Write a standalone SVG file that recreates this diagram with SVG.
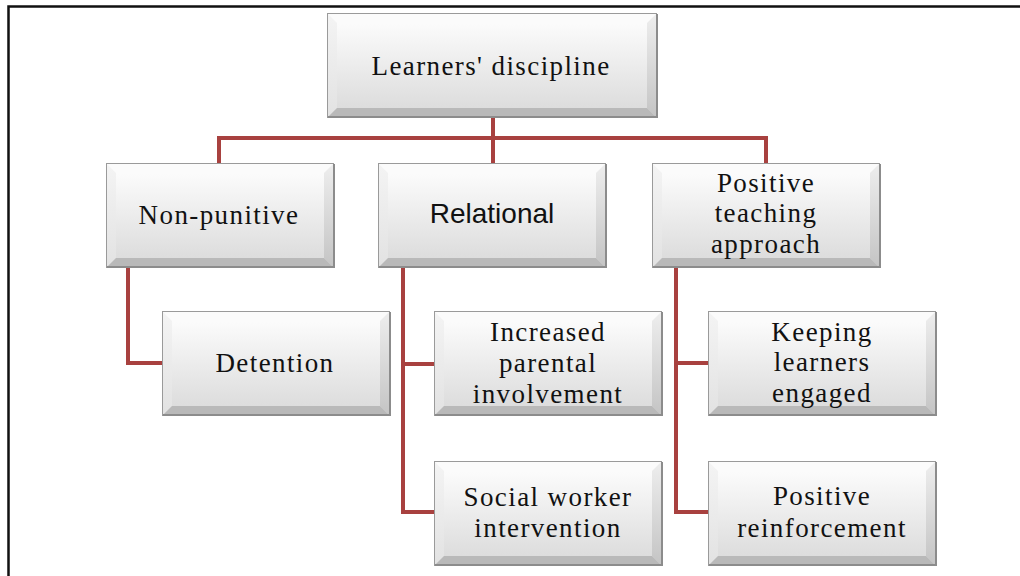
<svg xmlns="http://www.w3.org/2000/svg" xmlns:xlink="http://www.w3.org/1999/xlink" width="1020" height="576" viewBox="0 0 1020 576">
<style>
.t{font-family:"Liberation Serif","Times New Roman",serif;font-size:27px;letter-spacing:1.4px;fill:#111;text-anchor:middle}
.s{font-family:"Liberation Sans",Arial,sans-serif;font-size:28px;fill:#111;text-anchor:middle}
.c{fill:none;stroke:#a8413f;stroke-width:4}
.ft{fill:#fbfbfb}
.fl{fill:url(#gl)}
.fr{fill:url(#gr)}
.fb{fill:#b9b9b9}
.fc{fill:url(#gc)}
.ol{fill:none;stroke:#9a9a9a;stroke-width:1}
.sh{fill:none;stroke:#8c8c8c;stroke-width:2}
</style>
<defs>
<linearGradient id="gc" x1="0" y1="0" x2="0" y2="1"><stop offset="0" stop-color="#ffffff"/><stop offset="1" stop-color="#d9d9d9"/></linearGradient>
<linearGradient id="gl" x1="0" y1="0" x2="0" y2="1"><stop offset="0" stop-color="#f4f4f4"/><stop offset="1" stop-color="#e2e2e2"/></linearGradient>
<linearGradient id="gr" x1="0" y1="0" x2="0" y2="1"><stop offset="0" stop-color="#eeeeee"/><stop offset="1" stop-color="#c4c4c4"/></linearGradient>
<symbol id="b228" overflow="visible">
<rect class="fc" x="0" y="0" width="228" height="105"/>
<polygon class="ft" points="0,0 228,0 218,10 10,10"/>
<polygon class="fl" points="0,0 10,10 10,95 0,105"/>
<polygon class="fr" points="228,0 228,105 218,95 218,10"/>
<polygon class="fb" points="0,105 10,95 218,95 228,105"/>
<rect class="ol" x="0.5" y="0.5" width="227" height="104"/>
<path class="sh" d="M1,104 H228 V1"/>
</symbol>
<symbol id="b330" overflow="visible">
<rect class="fc" x="0" y="0" width="330" height="105"/>
<polygon class="ft" points="0,0 330,0 320,10 10,10"/>
<polygon class="fl" points="0,0 10,10 10,95 0,105"/>
<polygon class="fr" points="330,0 330,105 320,95 320,10"/>
<polygon class="fb" points="0,105 10,95 320,95 330,105"/>
<rect class="ol" x="0.5" y="0.5" width="329" height="104"/>
<path class="sh" d="M1,104 H330 V1"/>
</symbol>
</defs>
<rect width="1020" height="576" fill="#ffffff"/>
<path d="M8.5,576 V6.5 H1020" fill="none" stroke="#111" stroke-width="2.5"/>
<g id="connectors">
<path class="c" d="M493,118 V138"/>
<path class="c" d="M217,138 H768"/>
<path class="c" d="M219,138 V163"/>
<path class="c" d="M493,138 V163"/>
<path class="c" d="M766,138 V163"/>
<path class="c" d="M128,267 V363 H162"/>
<path class="c" d="M403,267 V512 H434"/>
<path class="c" d="M403,364 H434"/>
<path class="c" d="M676,267 V512 H708"/>
<path class="c" d="M676,363 H708"/>
</g>
<g id="root">
<use xlink:href="#b330" x="327" y="13"/>
<text class="t" x="491" y="75">Learners' discipline</text>
</g>
<g id="non-punitive">
<use xlink:href="#b228" x="106" y="163"/>
<text class="t" x="219" y="224">Non-punitive</text>
</g>
<g id="relational">
<use xlink:href="#b228" x="378" y="163"/>
<text class="s" x="492" y="223">Relational</text>
</g>
<g id="positive-teaching">
<use xlink:href="#b228" x="652" y="163"/>
<text class="t" x="766" y="192">Positive</text>
<text class="t" x="766" y="222">teaching</text>
<text class="t" x="766" y="253">approach</text>
</g>
<g id="detention">
<use xlink:href="#b228" x="162" y="311"/>
<text class="t" x="275" y="372">Detention</text>
</g>
<g id="parental">
<use xlink:href="#b228" x="434" y="311"/>
<text class="t" x="548" y="341">Increased</text>
<text class="t" x="548" y="372">parental</text>
<text class="t" x="548" y="403">involvement</text>
</g>
<g id="social-worker">
<use xlink:href="#b228" x="434" y="461"/>
<text class="t" x="548" y="506">Social worker</text>
<text class="t" x="548" y="537">intervention</text>
</g>
<g id="keeping">
<use xlink:href="#b228" x="708" y="311"/>
<text class="t" x="822" y="341">Keeping</text>
<text class="t" x="822" y="371">learners</text>
<text class="t" x="822" y="402">engaged</text>
</g>
<g id="reinforcement">
<use xlink:href="#b228" x="708" y="461"/>
<text class="t" x="822" y="505">Positive</text>
<text class="t" x="822" y="537">reinforcement</text>
</g>
</svg>
